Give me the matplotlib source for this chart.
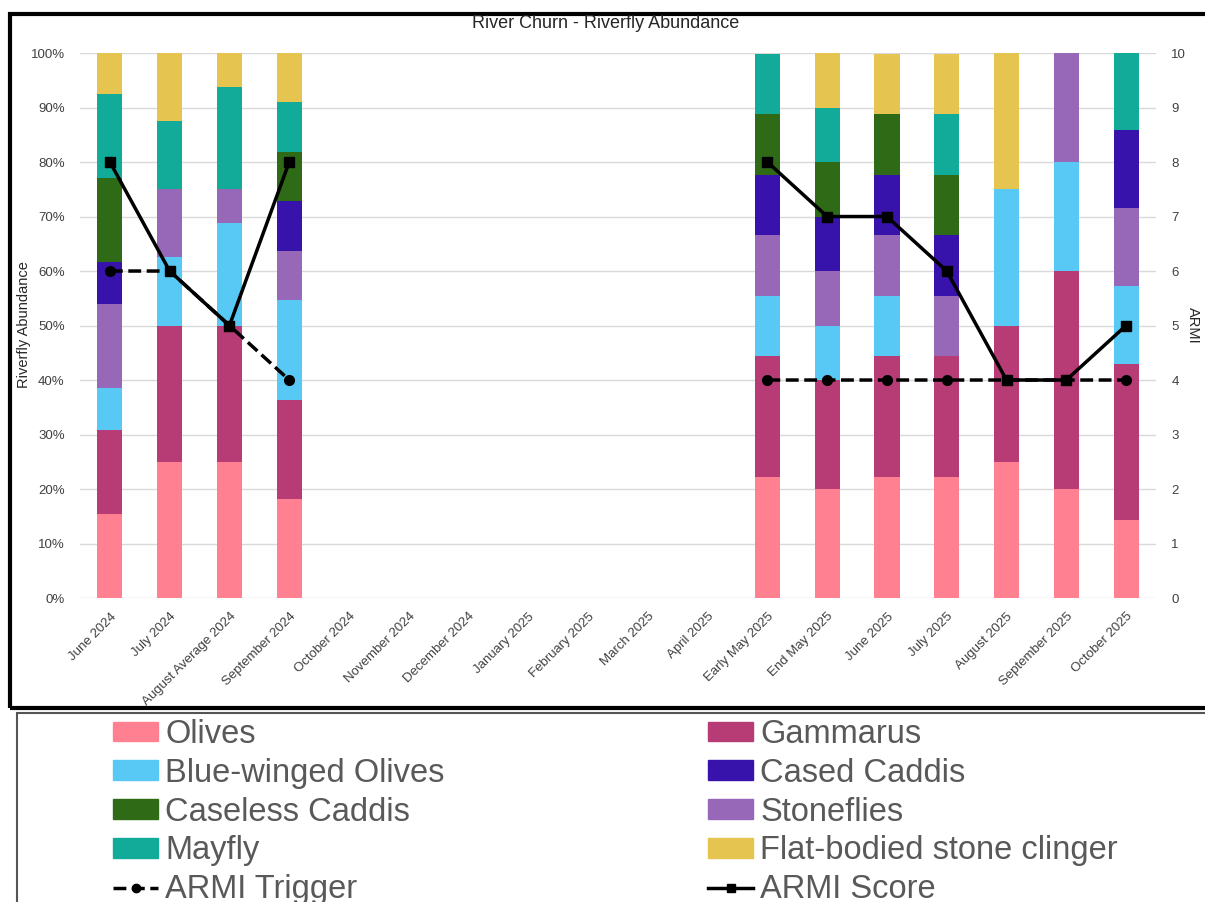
import numpy as np
import matplotlib.pyplot as plt
from matplotlib.patches import Rectangle, Patch
from matplotlib.lines import Line2D

plt.rcParams["font.family"] = ["Liberation Sans", "DejaVu Sans"]

months = ["June 2024", "July 2024", "August Average 2024", "September 2024",
          "October 2024", "November 2024", "December 2024", "January 2025",
          "February 2025", "March 2025", "April 2025", "Early May 2025",
          "End May 2025", "June 2025", "July 2025", "August 2025",
          "September 2025", "October 2025"]

nan = np.nan
# share of each group per sample (%), empty months left blank
olives      = [15.4, 25.0, 25.0, 18.2, 0, 0, 0, 0, 0, 0, 0, 22.2, 20.0, 22.2, 22.2, 25.0, 20.0, 14.3]
gammarus    = [15.4, 25.0, 25.0, 18.2, 0, 0, 0, 0, 0, 0, 0, 22.2, 20.0, 22.2, 22.2, 25.0, 40.0, 28.6]
bw_olives   = [7.7, 12.5, 18.75, 18.2, 0, 0, 0, 0, 0, 0, 0, 11.1, 10.0, 11.1, 0.0, 25.0, 20.0, 14.3]
stoneflies  = [15.4, 12.5, 6.25, 9.1, 0, 0, 0, 0, 0, 0, 0, 11.1, 10.0, 11.1, 11.1, 0.0, 20.0, 14.3]
cased       = [7.7, 0.0, 0.0, 9.1, 0, 0, 0, 0, 0, 0, 0, 11.1, 10.0, 11.1, 11.1, 0.0, 0.0, 14.3]
caseless    = [15.4, 0.0, 0.0, 9.1, 0, 0, 0, 0, 0, 0, 0, 11.1, 10.0, 11.1, 11.1, 0.0, 0.0, 0.0]
mayfly      = [15.4, 12.5, 18.75, 9.1, 0, 0, 0, 0, 0, 0, 0, 11.1, 10.0, 0.0, 11.1, 0.0, 0.0, 14.3]
flat_bodied = [7.7, 12.5, 6.25, 9.1, 0, 0, 0, 0, 0, 0, 0, 0.0, 10.0, 11.1, 11.1, 25.0, 0.0, 0.0]

armi_trigger = [6, 6, 5, 4, nan, nan, nan, nan, nan, nan, nan, 4, 4, 4, 4, 4, 4, 4]
armi_score   = [8, 6, 5, 8, nan, nan, nan, nan, nan, nan, nan, 8, 7, 7, 6, 4, 4, 5]

series = [
    ("Olives", olives, "#ff8090"),
    ("Gammarus", gammarus, "#b73c75"),
    ("Blue-winged Olives", bw_olives, "#58c9f4"),
    ("Stoneflies", stoneflies, "#9768b8"),
    ("Cased Caddis", cased, "#3813ab"),
    ("Caseless Caddis", caseless, "#2f6b17"),
    ("Mayfly", mayfly, "#12ab99"),
    ("Flat-bodied stone clinger", flat_bodied, "#e5c54f"),
]
colours = {name: c for name, _, c in series}

fig = plt.figure(figsize=(12.05, 9.02), dpi=100)
ax = fig.add_axes([0.0664, 0.337, 0.8929, 0.6042])

x = np.arange(len(months))
bottom = np.zeros(len(months))
for name, vals, col in series:
    vals = np.array(vals, dtype=float)
    ax.bar(x, vals, 0.42, bottom=bottom, color=col, zorder=2)
    bottom += vals

ax.set_xlim(-0.5, len(months) - 0.5)
ax.set_ylim(0, 100)
ax.set_yticks(np.arange(0, 101, 10))
ax.set_yticklabels([f"{v}%" for v in range(0, 101, 10)])
ax.grid(axis="y", color="#d9d9d9", linewidth=1, zorder=0)
ax.set_axisbelow(True)
for s in ax.spines.values():
    s.set_visible(False)
ax.tick_params(axis="y", length=0, pad=11, labelsize=9.5, labelcolor="#404040")
ax.set_xticks(x)
ax.set_xticklabels(months, rotation=45, ha="right", rotation_mode="anchor")
ax.tick_params(axis="x", length=0, pad=9, labelsize=9.5, labelcolor="#404040")

ax2 = ax.twinx()
ax2.set_ylim(0, 10)
ax2.set_yticks(range(0, 11))
for s in ax2.spines.values():
    s.set_visible(False)
ax2.tick_params(axis="y", length=0, pad=11, labelsize=9.5, labelcolor="#404040")
ax2.plot(x, armi_trigger, color="black", linestyle="--", linewidth=2.5,
         marker="o", markersize=7, zorder=3)
ax2.plot(x, armi_score, color="black", linestyle="-", linewidth=2.5,
         marker="s", markersize=7, zorder=4)

# chart title and axis titles
fig.text(606 / 1205, 1 - 24 / 902, "River Churn - Riverfly Abundance", fontsize=13,
         color="#262626", ha="center", va="center")
fig.text(24 / 1205, 1 - 325 / 902, "Riverfly Abundance", rotation=90, fontsize=10.5,
         color="#262626", ha="center", va="center")
fig.text(1193 / 1205, 1 - 325 / 902, "ARMI", rotation=270, fontsize=10.5,
         color="#262626", ha="center", va="center")

# black frame round the chart and grey frame round the key
fig.patches.append(Rectangle((10 / 1205, 1 - 708 / 902), 1.1, 694 / 902,
                             transform=fig.transFigure, fill=False,
                             edgecolor="black", linewidth=3))
fig.patches.append(Rectangle((17 / 1205, 1 - 910 / 902), 1.1, 197 / 902,
                             transform=fig.transFigure, fill=False,
                             edgecolor="#555555", linewidth=1.5))

col1 = [Patch(color=colours["Olives"], label="Olives"),
        Patch(color=colours["Blue-winged Olives"], label="Blue-winged Olives"),
        Patch(color=colours["Caseless Caddis"], label="Caseless Caddis"),
        Patch(color=colours["Mayfly"], label="Mayfly"),
        Line2D([], [], color="black", linestyle="--", linewidth=2.5, marker="o",
               markersize=6, label="ARMI Trigger")]
col2 = [Patch(color=colours["Gammarus"], label="Gammarus"),
        Patch(color=colours["Cased Caddis"], label="Cased Caddis"),
        Patch(color=colours["Stoneflies"], label="Stoneflies"),
        Patch(color=colours["Flat-bodied stone clinger"], label="Flat-bodied stone clinger"),
        Line2D([], [], color="black", linestyle="-", linewidth=2.5, marker="s",
               markersize=6, label="ARMI Score")]

for handles, x0 in [(col1, 113 / 1205), (col2, 708 / 1205)]:
    fig.legend(handles=handles, loc="upper left", bbox_to_anchor=(x0, 1 - 719 / 902),
               frameon=False, fontsize=23.5, handlelength=1.38, handleheight=0.55,
               handletextpad=0.22, labelspacing=0.24, borderpad=0, borderaxespad=0,
               labelcolor="#595959")

fig.savefig("out.png", dpi=100)
